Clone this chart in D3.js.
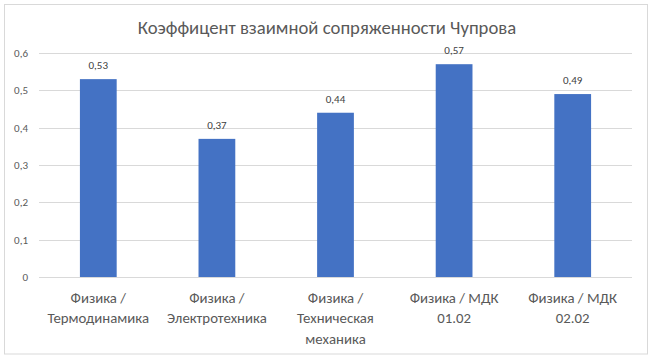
<!DOCTYPE html>
<html><head><meta charset="utf-8">
<script src="https://cdn.jsdelivr.net/npm/d3@7"></script>
<style>body{margin:0;background:#fff}svg{display:block}</style>
</head><body><svg id="c" width="654" height="360"></svg>
<script>
const categories = [["Физика /","Термодинамика"],["Физика /","Электротехника"],["Физика /","Техническая","механика"],["Физика / МДК","01.02"],["Физика / МДК","02.02"]];
const values = [0.53, 0.37, 0.44, 0.57, 0.49];
const yTicks = [0, 0.1, 0.2, 0.3, 0.4, 0.5, 0.6];
const title = "Коэффицент взаимной сопряженности Чупрова";

const font = "Carlito, Calibri, 'Liberation Sans', sans-serif";
const svg = d3.select("#c");
svg.append("rect").attr("x",4.5).attr("y",4.5).attr("width",643).attr("height",349.5)
  .attr("fill","#fff").attr("stroke","#d9d9d9").attr("stroke-width",1);

const x = d3.scaleBand().domain(d3.range(values.length)).range([39, 632]).paddingInner(0.69).paddingOuter(0.345);
const y = d3.scaleLinear().domain([0, 0.6]).range([277, 53]);
const fmt = v => d3.format(".1f")(v).replace(".", ",");

svg.append("text").attr("x",327).attr("y",33.5).attr("text-anchor","middle")
  .attr("font-family",font).attr("font-size",18.7).attr("fill","#595959").text(title);

const grid = svg.append("g");
grid.selectAll("line").data(yTicks).join("line")
  .attr("x1",39).attr("x2",632).attr("y1",d=>Math.round(y(d))+0.5).attr("y2",d=>Math.round(y(d))+0.5)
  .attr("stroke","#d9d9d9").attr("stroke-width",1);

const yAxis = d3.axisLeft(y).tickValues(yTicks).tickSize(0).tickPadding(0).tickFormat(d => d===0 ? "0" : fmt(d));
const ya = svg.append("g").attr("transform","translate(28,0)").call(yAxis);
ya.select(".domain").remove();
ya.selectAll("text").attr("font-family",font).attr("font-size",11).attr("fill","#595959");

svg.append("g").selectAll("rect").data(values).join("rect")
  .attr("x",(d,i)=>x(i)).attr("width",x.bandwidth())
  .attr("y",d=>y(d)).attr("height",d=>y(0)-y(d)).attr("fill","#4472c4");

svg.append("g").selectAll("text").data(values).join("text")
  .attr("x",(d,i)=>x(i)+x.bandwidth()/2).attr("y",d=>y(d)-10)
  .attr("text-anchor","middle").attr("font-family",font).attr("font-size",11).attr("fill","#404040")
  .text(d=>d3.format(".2f")(d).replace(".", ","));

const xAxis = d3.axisBottom(x).tickSize(0).tickFormat("");
const xa = svg.append("g").attr("transform","translate(0,277)").call(xAxis);
xa.select(".domain").remove();
const lab = svg.append("g");
categories.forEach((lines,i)=>{
  const t = lab.append("text").attr("text-anchor","middle").attr("font-family",font)
    .attr("font-size",14.8).attr("fill","#595959");
  lines.forEach((l,j)=>t.append("tspan").attr("x",x(i)+x.bandwidth()/2).attr("y",302.5+j*20.5).text(l));
});
</script></body></html>
